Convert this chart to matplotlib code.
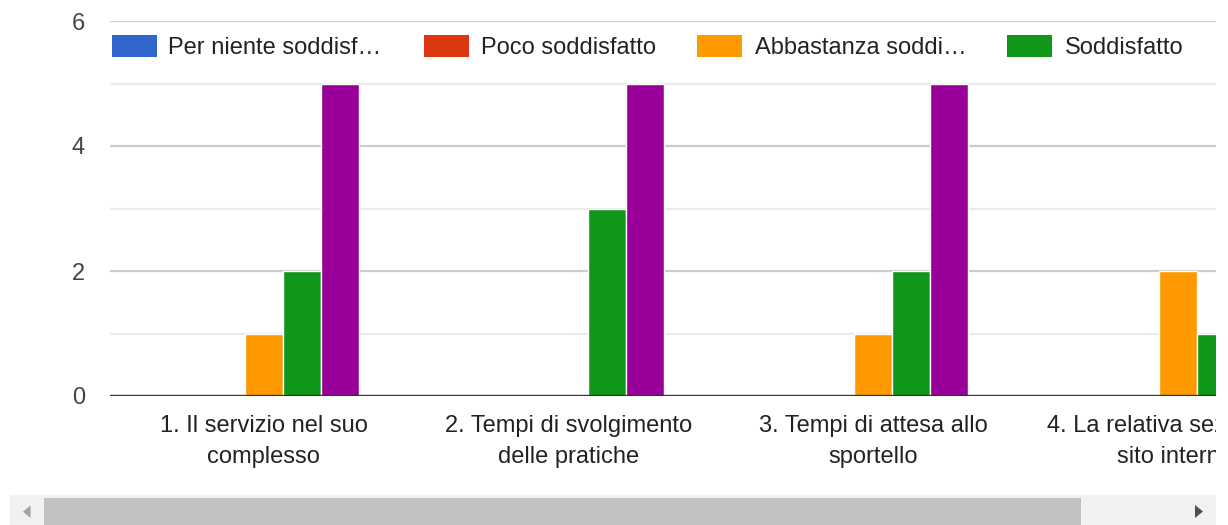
"""Grouped bar chart of satisfaction answers (Google Forms style, scrolled view)."""

import matplotlib
import matplotlib.pyplot as plt
import numpy as np
from matplotlib.patches import Rectangle, Polygon

matplotlib.use('Agg')

plt.rcParams['font.family'] = ['Liberation Sans', 'DejaVu Sans']

# data
categories = [
    "1. Il servizio nel suo\ncomplesso",
    "2. Tempi di svolgimento\ndelle pratiche",
    "3. Tempi di attesa allo\nsportello",
    "4. La relativa sezione del\nsito internet",
]
series_names = ["Per niente soddisf…", "Poco soddisfatto", "Abbastanza soddi…",
                "Soddisfatto", "Molto soddisfatto"]
per_niente = [0, 0, 0, 0]
poco = [0, 0, 0, 0]
abbastanza = [1, 0, 1, 2]
soddisfatto = [2, 3, 2, 1]
molto = [5, 5, 5, 5]
series_values = [per_niente, poco, abbastanza, soddisfatto, molto]
colors = ['#3366cc', '#dc3912', '#ff9900', '#109618', '#990099']

W, H = 1228, 525
fig = plt.figure(figsize=(W / 100, H / 100), dpi=100)


def fx(px):
    return px / W


def fy(py):
    # py measured from the top of the picture
    return (H - py) / H


ax = fig.add_axes([fx(110), fy(396), fx(1216 - 110), fy(21) - fy(396)])
x = np.arange(len(categories))
bar_w = 0.125
for i, (vals, col) in enumerate(zip(series_values, colors)):
    ax.bar(x + (i - 2) * bar_w, vals, width=bar_w, color=col,
           edgecolor='white', linewidth=1, zorder=3)

ax.set_xlim(-0.505, 3.125)
ax.set_ylim(0, 6)
for v in [1, 3, 5]:
    ax.axhline(v, color='#ebebeb', lw=1.6, zorder=1)
for v in [2, 4, 6]:
    ax.axhline(v, color='#cccccc', lw=1.6, zorder=1)
ax.axhline(0, color='#333333', lw=2.4, zorder=4)
ax.set_yticks([0, 2, 4, 6])
ax.tick_params(axis='y', length=0, pad=18, labelsize=17, labelcolor='#444444')
ax.set_xticks(x)
ax.set_xticklabels(categories, linespacing=1.55)
ax.tick_params(axis='x', length=0, pad=13.5, labelsize=17, labelcolor='#222222')
for s in ax.spines.values():
    s.set_visible(False)

# legend (only first four entries fit in view)
legend_pos = [(112, 168), (424, 481), (697, 755), (1007, 1065)]
for (bx, tx), name, col in zip(legend_pos, series_names, colors):
    fig.add_artist(Rectangle((fx(bx), fy(57)), fx(45), fy(35) - fy(57),
                             facecolor=col, edgecolor='none', zorder=5))
    fig.text(fx(tx), fy(48), name, fontsize=17, color='#222222',
             va='center', ha='left', zorder=5)

# clip the chart on the right
fig.add_artist(Rectangle((fx(1216), 0), fx(12), 1, facecolor='white',
                         edgecolor='none', zorder=10))

# horizontal scrollbar
fig.add_artist(Rectangle((fx(10), 0), fx(1216 - 10), fy(495),
                         facecolor='#f1f1f1', edgecolor='none', zorder=11))
fig.add_artist(Rectangle((fx(44), 0), fx(1081 - 44), fy(498),
                         facecolor='#c1c1c1', edgecolor='none', zorder=12))
fig.add_artist(Polygon([(fx(30.5), fy(505.5)), (fx(30.5), fy(518)), (fx(23), fy(511.7))],
                       closed=True, facecolor='#a3a3a3', edgecolor='none', zorder=12))
fig.add_artist(Polygon([(fx(1195), fy(505)), (fx(1195), fy(518)), (fx(1203), fy(511.5))],
                       closed=True, facecolor='#505050', edgecolor='none', zorder=12))

fig.savefig('out.png', dpi=100)
plt.close(fig)
